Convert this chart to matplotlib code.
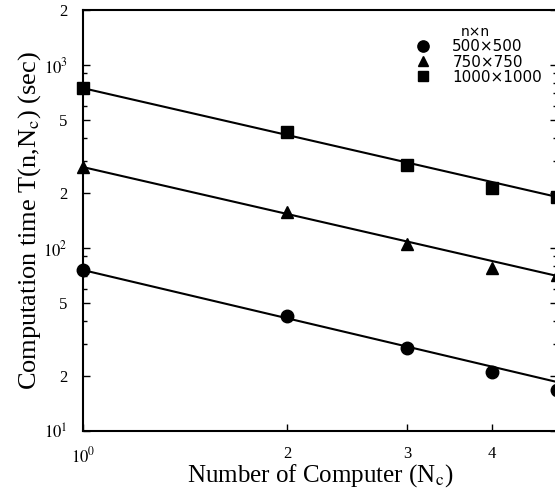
import matplotlib.pyplot as plt
import numpy as np
from matplotlib.ticker import FixedLocator, FixedFormatter, NullFormatter

plt.rcParams["mathtext.fontset"] = "stix"

# data
n_computers = [1, 2, 3, 4, 5]
t_500 = [75.8, 42.5, 28.4, 21.0, 16.8]
t_750 = [277, 157, 105, 77.8, 71]
t_1000 = [748, 430, 284, 213, 190]

# fitted lines (value at Nc=1 and Nc=5)
fit_x = [1, 5]
fit_500 = [75.8, 18.5]
fit_750 = [277, 70.3]
fit_1000 = [748, 190]

labels = ["500×500", "750×750", "1000×1000"]
markers = ["o", "^", "s"]
sizes = [9, 8, 8]

fig = plt.figure(figsize=(5.55, 4.9), dpi=100)
ax = fig.add_axes([0.1495, 0.1204, 0.855, 0.8592])

for data, fit, m, ms, lab in zip([t_500, t_750, t_1000],
                                 [fit_500, fit_750, fit_1000],
                                 markers, sizes, labels):
    ax.plot(fit_x, fit, color="black", lw=1.5, zorder=2)
    ax.plot(n_computers, data, linestyle="none", marker=m, ms=ms,
            color="black", label=lab, clip_on=False, zorder=3)

ax.set_xscale("log")
ax.set_yscale("log")
ax.set_xlim(1, 5)
ax.set_ylim(10, 2000)

# x ticks
ax.xaxis.set_major_locator(FixedLocator([1, 2, 3, 4]))
ax.xaxis.set_major_formatter(FixedFormatter([r"$10^0$", "2", "3", "4"]))
ax.xaxis.set_minor_locator(FixedLocator([]))

# y ticks
ax.yaxis.set_major_locator(FixedLocator([10, 20, 50, 100, 200, 500, 1000, 2000]))
ax.yaxis.set_major_formatter(FixedFormatter(
    [r"$10^1$", "2", "5", r"$10^2$", "2", "5", r"$10^3$", "2"]))
minor = [v * m for v in [10, 100, 1000] for m in [3, 4, 6, 7, 8, 9]]
ax.yaxis.set_minor_locator(FixedLocator(minor))
ax.yaxis.set_minor_formatter(NullFormatter())

ax.tick_params(which="both", direction="in", right=True, top=False,
               labelsize=12, width=1)
ax.tick_params(which="major", length=5, pad=11)
ax.tick_params(which="minor", length=3)
for t in ax.get_xticklabels() + ax.get_yticklabels():
    t.set_family("Liberation Serif")

for s in ax.spines.values():
    s.set_linewidth(1.5)

ax.set_xlabel("Number of Computer (N$_\\mathrm{c}$)", fontsize=18,
              family="Liberation Serif", labelpad=-3)
ax.set_ylabel("Computation time T(n,N$_\\mathrm{c}$) (sec)", fontsize=19,
              family="Liberation Serif", labelpad=0)

leg = ax.legend(title="n×n", loc="upper right", frameon=False,
                fontsize=11, title_fontsize=10, handletextpad=0.9,
                borderaxespad=0.3, labelspacing=0.02, markerscale=0.9,
                bbox_to_anchor=(0.99, 0.99))

fig.savefig("out.png", dpi=100)
